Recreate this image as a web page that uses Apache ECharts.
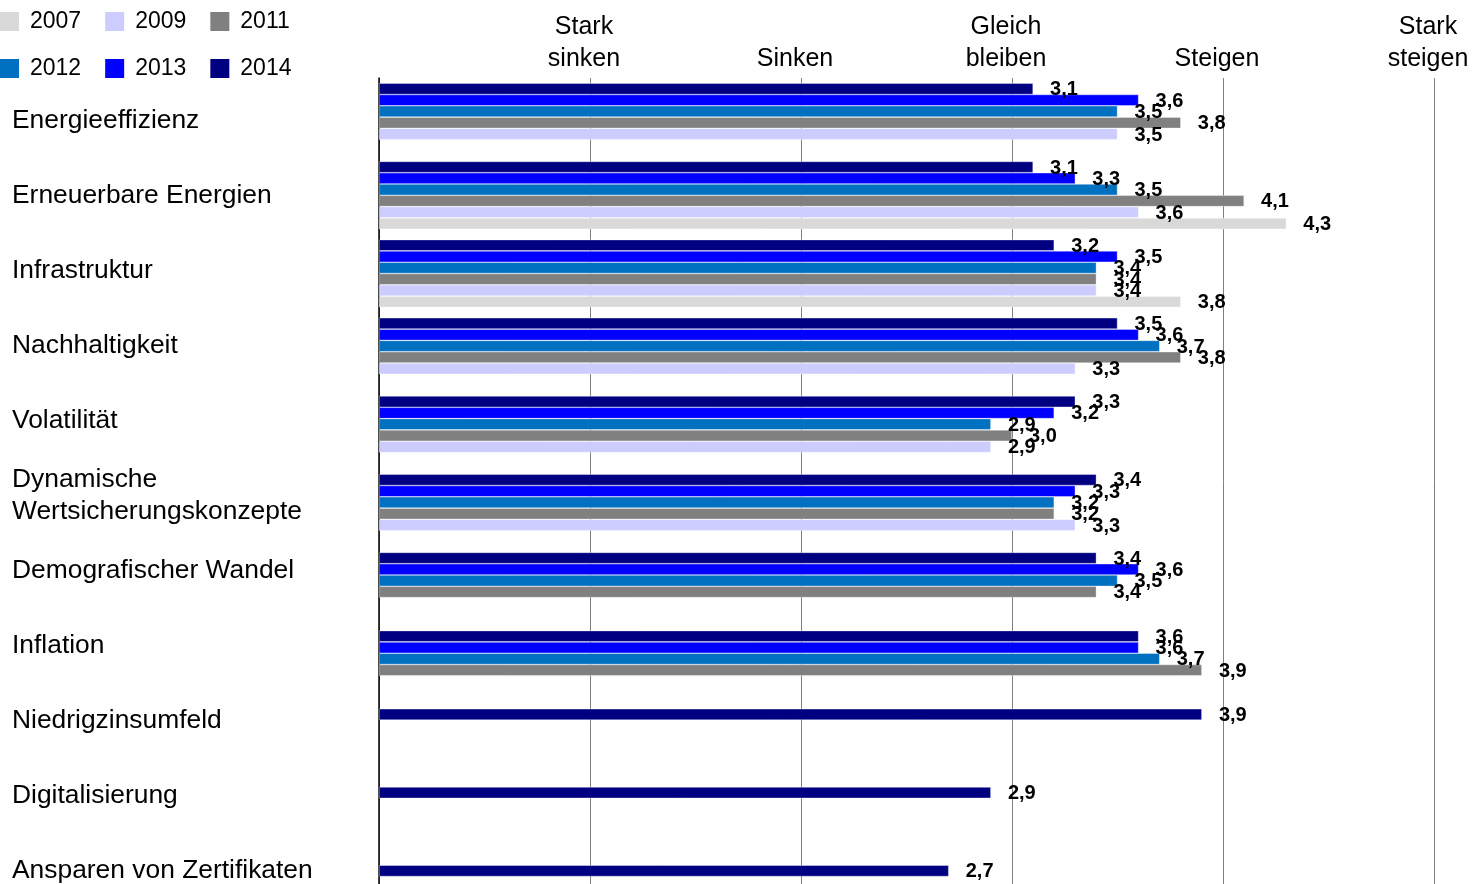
<!DOCTYPE html>
<html>
<head>
<meta charset="utf-8">
<script src="https://cdn.jsdelivr.net/npm/echarts@6/dist/echarts.min.js"></script>
<style>
html,body{margin:0;padding:0;background:#fff;}
#chart{width:1472px;height:884px;}
</style>
</head>
<body>
<div id="chart"></div>
<script>
const categories = ['Energieeffizienz','Erneuerbare Energien','Infrastruktur','Nachhaltigkeit','Volatilität','Dynamische\nWertsicherungskonzepte','Demografischer Wandel','Inflation','Niedrigzinsumfeld','Digitalisierung','Ansparen von Zertifikaten'];
const years = ['2014','2013','2012','2011','2009','2007'];
const v2014 = [3.1,3.1,3.2,3.5,3.3,3.4,3.4,3.6,3.9,2.9,2.7];
const v2013 = [3.6,3.3,3.5,3.6,3.2,3.3,3.6,3.6,null,null,null];
const v2012 = [3.5,3.5,3.4,3.7,2.9,3.2,3.5,3.7,null,null,null];
const v2011 = [3.8,4.1,3.4,3.8,3.0,3.2,3.4,3.9,null,null,null];
const v2009 = [3.5,3.6,3.4,3.3,2.9,3.3,null,null,null,null,null];
const v2007 = [null,4.3,3.8,null,null,null,null,null,null,null,null];
const tickLabels = ['', 'Stark\nsinken', 'Sinken', 'Gleich\nbleiben', 'Steigen', 'Stark\nsteigen'];
const colors = {'2014':'#000080','2013':'#0000ff','2012':'#0070c0','2011':'#808080','2009':'#ccccff','2007':'#d9d9d9'};
const valuesByYear = {'2014':v2014,'2013':v2013,'2012':v2012,'2011':v2011,'2009':v2009,'2007':v2007};

const FONT = '"Liberation Sans", Arial, sans-serif';
const chart = echarts.init(document.getElementById('chart'));

const series = years.map(y => ({
  name: y,
  type: 'bar',
  xAxisIndex: 0,
  yAxisIndex: 0,
  data: valuesByYear[y],
  barGap: '0%',
  barCategoryGap: '13.3%',
  itemStyle: { color: colors[y], borderColor: 'rgba(255,255,255,0.6)', borderWidth: 0.6 },
  label: {
    show: true,
    position: 'right',
    distance: 17,
    offset: [0, 1],
    color: '#000',
    fontFamily: FONT,
    fontWeight: 'bold',
    fontSize: 20,
    formatter: p => p.value == null ? '' : Number(p.value).toFixed(1).replace('.', ',')
  },
  emphasis: { disabled: true },
  animation: false
}));

const legendCommon = {
  orient: 'horizontal',
  left: 0,
  padding: 0,
  itemWidth: 19,
  itemHeight: 19,
  itemGap: 24,
  icon: 'rect',
  itemStyle: { borderWidth: 0 },
  textStyle: { fontFamily: FONT, fontSize: 23, color: '#000', padding: [0,0,0,6] }
};

chart.setOption({
  animation: false,
  backgroundColor: '#fff',
  legend: [
    Object.assign({}, legendCommon, { top: 10, data: ['2007','2009','2011'] }),
    Object.assign({}, legendCommon, { top: 57, data: ['2012','2013','2014'] })
  ],
  grid: [
    { left: 379, right: 38, top: 78, height: 860.2, containLabel: false, outerBoundsMode: 'none' },
    { left: 379, right: 38, top: 83.7, height: 825, containLabel: false, outerBoundsMode: 'none' }
  ],
  xAxis: [
    {
      type: 'value', gridIndex: 0, position: 'top', min: 0, max: 5, interval: 1,
      axisLine: { show: false }, axisTick: { show: false },
      splitLine: { show: true, lineStyle: { color: '#808080', width: 1 } },
      axisLabel: {
        show: true, margin: 3, fontFamily: FONT, fontSize: 25, color: '#000',
        lineHeight: 32, align: 'center', padding: [0, 12, 0, 0],
        showMinLabel: true, showMaxLabel: true, hideOverlap: false,
        formatter: v => tickLabels[Math.round(v)] || ''
      }
    },
    { type: 'value', gridIndex: 1, min: 0, max: 5, show: false }
  ],
  yAxis: [
    {
      type: 'category', gridIndex: 0, inverse: true, data: categories,
      axisLine: { show: true, lineStyle: { color: '#000', width: 1.5 } },
      axisTick: { show: false }, axisLabel: { show: false }, splitLine: { show: false }
    },
    {
      type: 'category', gridIndex: 1, inverse: true, data: categories,
      axisLine: { show: false }, axisTick: { show: false }, splitLine: { show: false },
      axisLabel: {
        show: true, interval: 0, align: 'left', margin: 367,
        fontFamily: FONT, fontSize: 26.4, color: '#000', lineHeight: 32
      }
    }
  ],
  series: series
});
</script>
</body>
</html>
